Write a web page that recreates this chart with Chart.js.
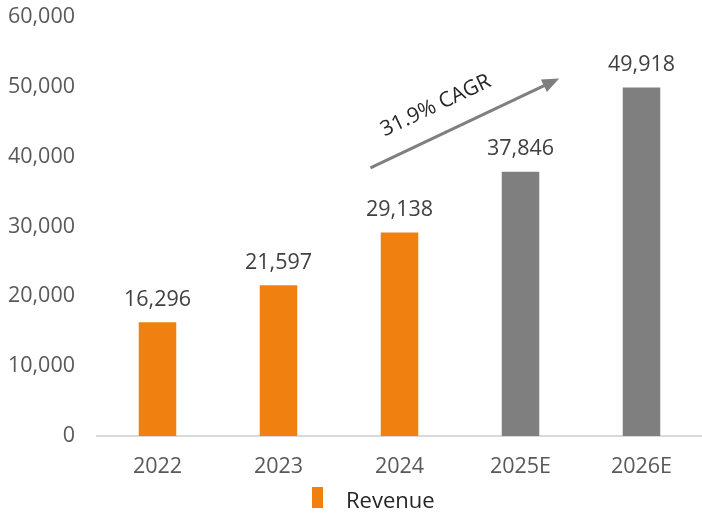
<!DOCTYPE html>
<html>
<head>
<meta charset="utf-8">
<script src="https://cdn.jsdelivr.net/npm/chart.js@4"></script>
<style>
  html, body { margin: 0; padding: 0; background: #fff; }
  #wrap { width: 702px; height: 515px; position: relative; }
</style>
</head>
<body>
<div id="wrap"><canvas id="chart"></canvas></div>
<script>
// dados
var anos = ['2022', '2023', '2024', '2025E', '2026E'];
var receita = [16296, 21597, 29138, 37846, 49918];
var estimado = [false, false, false, true, true];
var cagrTexto = '31.9% CAGR';

var LARANJA = '#F0800F';
var CINZA = '#7F7F7F';

var cores = estimado.map(e => e ? CINZA : LARANJA);

// rótulos de valor em cima das barras
const rotulos = {
  id: 'rotulos',
  afterDatasetsDraw(chart) {
    const ctx = chart.ctx;
    const meta = chart.getDatasetMeta(0);
    ctx.save();
    ctx.font = '21.5px "Open Sans"';
    ctx.fillStyle = '#404040';
    ctx.textAlign = 'center';
    ctx.textBaseline = 'bottom';
    meta.data.forEach((bar, i) => {
      ctx.fillText(receita[i].toLocaleString('en-US'), bar.x, bar.y - 12);
    });
    ctx.restore();
  }
};

// seta do CAGR
const seta = {
  id: 'seta',
  afterDraw(chart) {
    const ctx = chart.ctx;
    const x = chart.scales.x, y = chart.scales.y;
    const x0 = x.getPixelForValue(1.76), y0 = y.getPixelForValue(38400);
    const x1 = x.getPixelForValue(3.32), y1 = y.getPixelForValue(51200);
    const ang = Math.atan2(y1 - y0, x1 - x0);
    ctx.save();
    ctx.strokeStyle = CINZA;
    ctx.fillStyle = CINZA;
    ctx.lineWidth = 3;
    ctx.beginPath();
    ctx.moveTo(x0, y0);
    ctx.lineTo(x1 - 12 * Math.cos(ang), y1 - 12 * Math.sin(ang));
    ctx.stroke();
    ctx.beginPath();
    ctx.moveTo(x1, y1);
    ctx.lineTo(x1 - 17 * Math.cos(ang) + 7 * Math.sin(ang), y1 - 17 * Math.sin(ang) - 7 * Math.cos(ang));
    ctx.lineTo(x1 - 17 * Math.cos(ang) - 7 * Math.sin(ang), y1 - 17 * Math.sin(ang) + 7 * Math.cos(ang));
    ctx.closePath();
    ctx.fill();
    // texto
    const tx = x.getPixelForValue(2.3), ty = y.getPixelForValue(47300);
    ctx.translate(tx, ty);
    ctx.rotate(ang);
    ctx.font = '21px "Open Sans"';
    ctx.fillStyle = '#262626';
    ctx.textAlign = 'center';
    ctx.textBaseline = 'middle';
    ctx.fillText(cagrTexto, 0, 0);
    ctx.restore();
  }
};

// legenda desenhada à mão
const legenda = {
  id: 'legenda',
  afterDraw(chart) {
    const ctx = chart.ctx;
    ctx.save();
    ctx.fillStyle = LARANJA;
    ctx.fillRect(312, 487, 11, 21);
    ctx.font = '22px "Open Sans"';
    ctx.fillStyle = '#262626';
    ctx.textAlign = 'left';
    ctx.textBaseline = 'middle';
    ctx.fillText(chart.data.datasets[0].label, 346, 502);
    ctx.restore();
  }
};

myChart = new Chart(document.getElementById('chart'), {
  type: 'bar',
  data: {
    labels: anos,
    datasets: [{
      label: 'Revenue',
      data: receita,
      backgroundColor: cores,
      barPercentage: 0.31,
      categoryPercentage: 1
    }]
  },
  options: {
    responsive: true,
    maintainAspectRatio: false,
    animation: false,
    layout: { padding: { top: 17, left: 0, right: 0, bottom: 0 } },
    plugins: {
      legend: { display: false },
      tooltip: { enabled: false }
    },
    scales: {
      x: {
        grid: { display: false, drawTicks: false },
        border: { display: true, color: '#D9D9D9', width: 2 },
        ticks: { color: '#595959', font: { family: 'Open Sans', size: 21.5 }, padding: 18 },
        afterFit: s => { s.height = 79; s.paddingLeft = 0; s.paddingRight = 0; }
      },
      y: {
        min: 0, max: 60000,
        grid: { display: false, drawTicks: false },
        border: { display: false },
        ticks: {
          stepSize: 10000,
          color: '#595959',
          font: { family: 'Open Sans', size: 21.5 },
          padding: 22,
          callback: v => v.toLocaleString('en-US')
        },
        afterFit: s => { s.width = 97; s.paddingTop = 0; s.paddingBottom = 0; }
      }
    }
  },
  plugins: [rotulos, seta, legenda]
});
</script>
</body>
</html>
